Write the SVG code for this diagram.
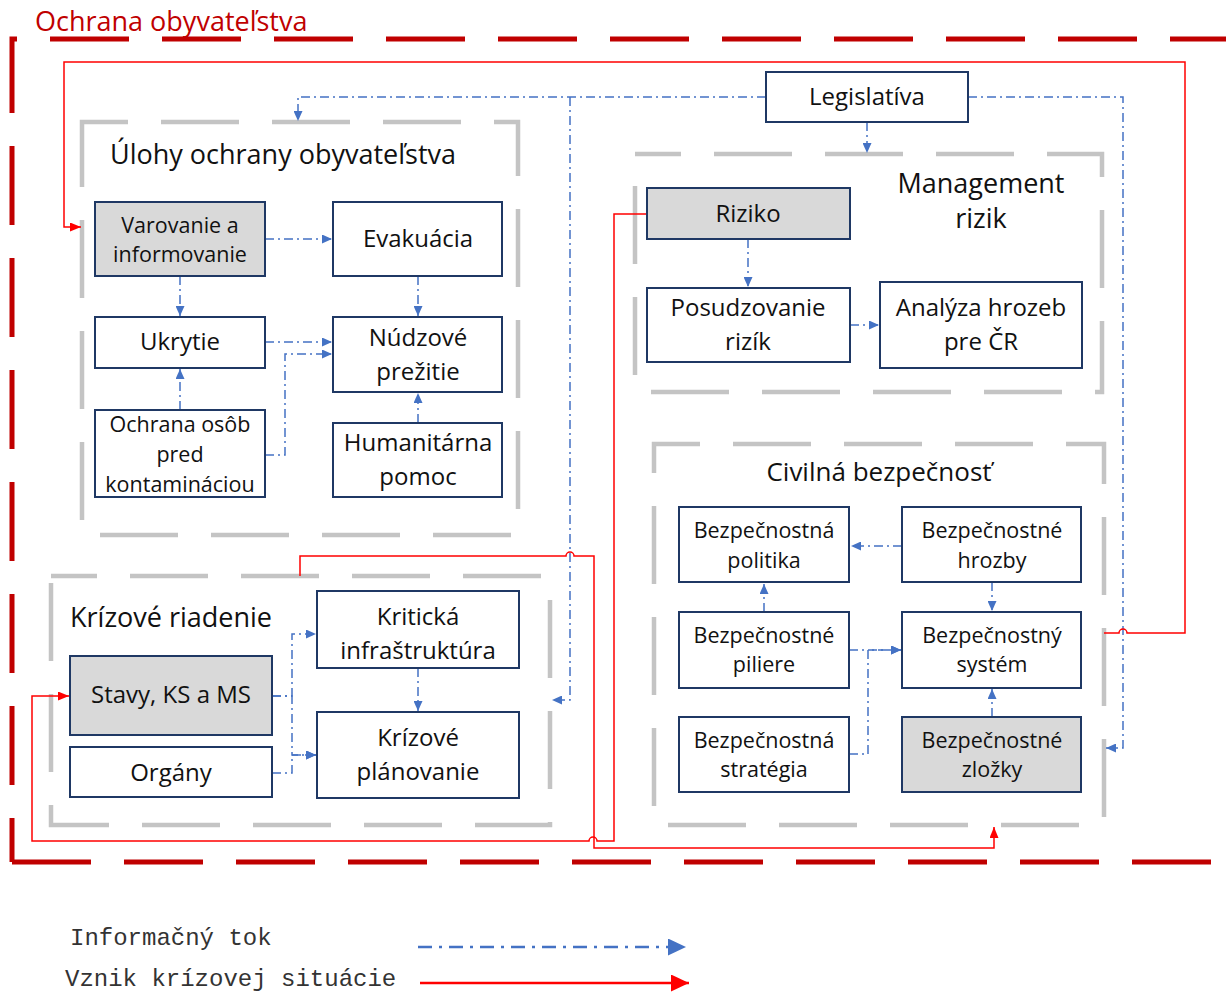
<svg xmlns="http://www.w3.org/2000/svg" width="1226" height="994" viewBox="0 0 1226 994">
<style>
.bg{fill:#ffffff}
.node{fill:#ffffff;stroke:#1f3864;stroke-width:2}
.gray{fill:#d9d9d9}
.t{font-family:"Open Sans","Noto Sans","Liberation Sans",sans-serif;fill:#111111;text-anchor:middle}
.s24{font-size:24px}
.s21{font-size:21.5px}
.gt{font-family:"Open Sans","Noto Sans","Liberation Sans",sans-serif;fill:#111111;font-size:27px}
.frame{fill:none;stroke:#c4c4c4;stroke-width:4.5;stroke-dasharray:78 33;stroke-dashoffset:32}
.outer{fill:none;stroke:#c00000;stroke-width:5;stroke-dasharray:79 33}
.info{fill:none;stroke:#4472c4;stroke-width:1.5;stroke-dasharray:9 4 2 4;marker-end:url(#ab)}
.crisis{fill:none;stroke:#ff0000;stroke-width:1.5;marker-end:url(#ar)}
.leg{font-family:"Liberation Mono","DejaVu Sans Mono",monospace;font-size:24px;fill:#333333}
</style>
<defs>
<marker id="ab" markerUnits="userSpaceOnUse" markerWidth="10" markerHeight="9" refX="10" refY="4.5" orient="auto"><path d="M0,0 L10,4.5 L0,9 Z" fill="#4472c4"/></marker>
<marker id="ar" markerUnits="userSpaceOnUse" markerWidth="11" markerHeight="9" refX="11" refY="4.5" orient="auto"><path d="M0,0 L11,4.5 L0,9 Z" fill="#ff0000"/></marker>
<marker id="abL" markerUnits="userSpaceOnUse" markerWidth="18" markerHeight="17" refX="18" refY="8.5" orient="auto"><path d="M0,0 L18,8.5 L0,17 Z" fill="#4472c4"/></marker>
<marker id="arL" markerUnits="userSpaceOnUse" markerWidth="18" markerHeight="17" refX="18" refY="8.5" orient="auto"><path d="M0,0 L18,8.5 L0,17 Z" fill="#ff0000"/></marker>
</defs>
<rect class="bg" x="0" y="0" width="1226" height="994"/>

<g id="outer-frame">
<path class="outer" d="M12,862 V39 H1240" style="stroke-dashoffset:35"/>
<path class="outer" d="M12,862 H1240"/>
<text x="35" y="31" style="font-family:'Open Sans','Noto Sans','Liberation Sans',sans-serif;font-size:27px;fill:#c00000">Ochrana obyvateľstva</text>
</g>

<g id="group-ulohy">
<path class="frame" d="M82,122 H518 V535 H82 Z"/>
<text class="gt" x="110" y="164">Úlohy ochrany obyvateľstva</text>
</g>
<g id="group-krizove">
<path class="frame" d="M51,576 H550 V825 H51 Z"/>
<text class="gt" x="70" y="627">Krízové riadenie</text>
</g>
<g id="group-management">
<path class="frame" d="M635,154 H1102 V392 H635 Z"/>
<text class="gt" x="981" y="193" text-anchor="middle">Management</text>
<text class="gt" x="981" y="228" text-anchor="middle">rizik</text>
</g>
<g id="group-civilna">
<path class="frame" d="M654,444 H1104 V825 H654 Z"/>
<text class="gt" x="879" y="481" text-anchor="middle" style="font-size:26px">Civilná bezpečnosť</text>
</g>

<g id="connectors">
<path class="info" d="M766,97 H298 V121"/>
<path class="info" d="M570,97 V700 H552"/>
<path class="info" d="M968,97 H1123 V748 H1106"/>
<path class="info" d="M867,122 V153"/>
<path class="info" d="M265,239 H332"/>
<path class="info" d="M180,276 V316"/>
<path class="info" d="M418,276 V316"/>
<path class="info" d="M265,342 H332"/>
<path class="info" d="M265,455 H285 V354 H332"/>
<path class="info" d="M180,410 V369"/>
<path class="info" d="M418,423 V393"/>
<path class="info" d="M748,239 V287"/>
<path class="info" d="M850,325 H879"/>
<path class="info" d="M272,696 H292 V634 H316"/>
<path class="info" d="M272,696 H292 V755 H316"/>
<path class="info" d="M272,773 H292 V755 H316"/>
<path class="info" d="M418,668 V711"/>
<path class="info" d="M902,546 H851"/>
<path class="info" d="M764,612 V584"/>
<path class="info" d="M992,582 V611"/>
<path class="info" d="M849,650 H901"/>
<path class="info" d="M849,754 H868 V650 H901"/>
<path class="info" d="M992,717 V689"/>
<path class="crisis" d="M1104,633 H1119 A4,4 0 0 1 1127,633 H1185 V62 H64 V227 H81"/>
<path class="crisis" d="M300,576 V556 H566 A4,4 0 0 1 574,556 H594 V848 H994 V827"/>
<path class="crisis" d="M647,214 H614 V841 H597 A4,4 0 0 0 589,841 H32 V696 H69"/>
</g>

<g id="n-legislativa"><rect class="node" x="766" y="72" width="202" height="50"/><text class="t s24" x="867" y="105">Legislatíva</text></g>
<g id="n-varovanie"><rect class="node gray" x="95" y="202" width="170" height="74"/><text class="t s21" x="180" y="233">Varovanie a</text><text class="t s21" x="180" y="262">informovanie</text></g>
<g id="n-evakuacia"><rect class="node" x="333" y="202" width="169" height="74"/><text class="t s24" x="418" y="247">Evakuácia</text></g>
<g id="n-ukrytie"><rect class="node" x="95" y="317" width="170" height="51"/><text class="t s24" x="180" y="350">Ukrytie</text></g>
<g id="n-nudzove"><rect class="node" x="333" y="317" width="169" height="75"/><text class="t s24" x="418" y="346">Núdzové</text><text class="t s24" x="418" y="380">prežitie</text></g>
<g id="n-ochrana"><rect class="node" x="95" y="410" width="170" height="87"/><text class="t s21" x="180" y="432">Ochrana osôb</text><text class="t s21" x="180" y="462">pred</text><text class="t s21" x="180" y="492">kontamináciou</text></g>
<g id="n-humanitarna"><rect class="node" x="333" y="423" width="169" height="74"/><text class="t s24" x="418" y="451">Humanitárna</text><text class="t s24" x="418" y="485">pomoc</text></g>
<g id="n-riziko"><rect class="node gray" x="647" y="188" width="203" height="51"/><text class="t s24" x="748" y="222">Riziko</text></g>
<g id="n-posudzovanie"><rect class="node" x="647" y="288" width="203" height="74"/><text class="t s24" x="748" y="316">Posudzovanie</text><text class="t s24" x="748" y="350">rizík</text></g>
<g id="n-analyza"><rect class="node" x="880" y="282" width="202" height="86"/><text class="t s24" x="981" y="316">Analýza hrozeb</text><text class="t s24" x="981" y="350">pre ČR</text></g>
<g id="n-politika"><rect class="node" x="679" y="507" width="170" height="75"/><text class="t s21" x="764" y="538">Bezpečnostná</text><text class="t s21" x="764" y="568">politika</text></g>
<g id="n-hrozby"><rect class="node" x="902" y="507" width="179" height="75"/><text class="t s21" x="992" y="538">Bezpečnostné</text><text class="t s21" x="992" y="568">hrozby</text></g>
<g id="n-piliere"><rect class="node" x="679" y="612" width="170" height="76"/><text class="t s21" x="764" y="643">Bezpečnostné</text><text class="t s21" x="764" y="672">piliere</text></g>
<g id="n-system"><rect class="node" x="902" y="612" width="179" height="76"/><text class="t s21" x="992" y="643">Bezpečnostný</text><text class="t s21" x="992" y="672">systém</text></g>
<g id="n-strategia"><rect class="node" x="679" y="717" width="170" height="75"/><text class="t s21" x="764" y="748">Bezpečnostná</text><text class="t s21" x="764" y="777">stratégia</text></g>
<g id="n-zlozky"><rect class="node gray" x="902" y="717" width="179" height="75"/><text class="t s21" x="992" y="748">Bezpečnostné</text><text class="t s21" x="992" y="777">zložky</text></g>
<g id="n-kriticka"><rect class="node" x="317" y="591" width="202" height="77"/><text class="t s24" x="418" y="625">Kritická</text><text class="t s24" x="418" y="659">infraštruktúra</text></g>
<g id="n-stavy"><rect class="node gray" x="70" y="656" width="202" height="79"/><text class="t s24" x="171" y="703">Stavy, KS a MS</text></g>
<g id="n-organy"><rect class="node" x="70" y="747" width="202" height="50"/><text class="t s24" x="171" y="781">Orgány</text></g>
<g id="n-planovanie"><rect class="node" x="317" y="712" width="202" height="86"/><text class="t s24" x="418" y="746">Krízové</text><text class="t s24" x="418" y="780">plánovanie</text></g>

<g id="legend">
<text class="leg" x="70" y="945">Informačný tok</text>
<text class="leg" x="65" y="986">Vznik krízovej situácie</text>
<path d="M418,947 H686" fill="none" stroke="#4472c4" stroke-width="2.5" stroke-dasharray="14 7 3 7" marker-end="url(#abL)"/>
<path d="M420,983 H689" fill="none" stroke="#ff0000" stroke-width="2.5" marker-end="url(#arL)"/>
</g>
</svg>
